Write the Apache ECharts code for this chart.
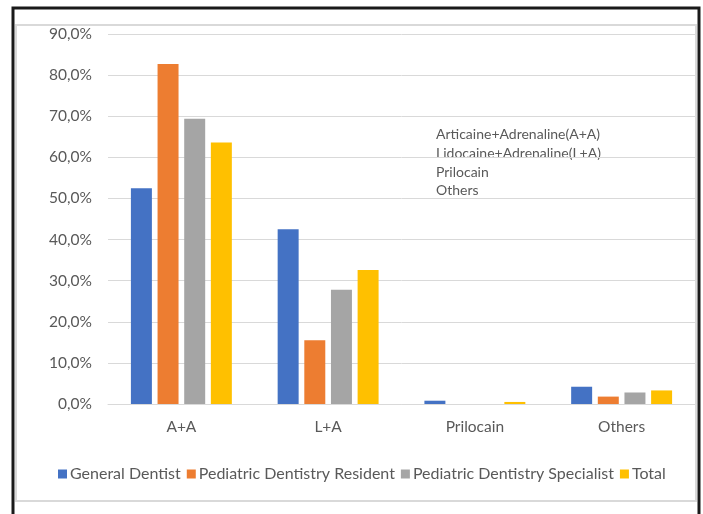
<!DOCTYPE html>
<html>
<head>
<meta charset="utf-8">
<script src="https://cdn.jsdelivr.net/npm/echarts@6/dist/echarts.min.js"></script>
<style>
  html, body { margin: 0; padding: 0; background: #ffffff; }
  #chart { width: 703px; height: 514px; }
</style>
</head>
<body>
<div id="chart"></div>
<script>
// Anaesthetic agent usage by respondent group (% of each group)
const categories = ['A+A', 'L+A', 'Prilocain', 'Others'];
const seriesNames = ['General Dentist', 'Pediatric Dentistry Resident', 'Pediatric Dentistry Specialist', 'Total'];
const generalDentist = [52.5, 42.5, 0.8, 4.2];
const pediatricResident = [82.7, 15.5, 0, 1.8];
const pediatricSpecialist = [69.4, 27.8, 0, 2.8];
const total = [63.6, 32.6, 0.5, 3.3];
const agentNotes = [
  'Articaine+Adrenaline(A+A)',
  'Lidocaine+Adrenaline(L+A)',
  'Prilocain',
  'Others'
];

const colors = ['#4472c4', '#ed7d31', '#a5a5a5', '#ffc000'];
const textColor = '#595959';
const fontFamily = 'Lato, "Open Sans", sans-serif';

const chart = echarts.init(document.getElementById('chart'), null, { renderer: 'canvas' });

const values = [generalDentist, pediatricResident, pediatricSpecialist, total];

chart.setOption({
  animation: false,
  color: colors,
  textStyle: { fontFamily: fontFamily },
  grid: { left: 108, right: 8, top: 34, bottom: 110, containLabel: false },
  xAxis: {
    type: 'category',
    data: categories,
    axisLine: { lineStyle: { color: '#d9d9d9', width: 1 } },
    axisTick: { show: false },
    axisLabel: { color: textColor, fontSize: 15.5, margin: 15, fontFamily: fontFamily }
  },
  yAxis: {
    type: 'value',
    min: 0,
    max: 90,
    interval: 10,
    axisLine: { show: false },
    axisTick: { show: false },
    splitLine: { lineStyle: { color: '#d9d9d9', width: 1 } },
    axisLabel: {
      color: textColor,
      fontSize: 15.5,
      margin: 16,
      fontFamily: fontFamily,
      formatter: v => v.toFixed(1).replace('.', ',') + '%'
    }
  },
  legend: {
    bottom: 27,
    left: 53,
    itemWidth: 9,
    itemHeight: 9,
    itemGap: 6,
    icon: 'rect',
    textStyle: { color: textColor, fontSize: 16, fontFamily: fontFamily, padding: [0, 0, 0, -2] },
    data: seriesNames
  },
  series: seriesNames.map((name, i) => ({
    name: name,
    type: 'bar',
    data: values[i],
    barWidth: '14.3%',
    barGap: '27%',
    itemStyle: { color: colors[i] }
  })),
  graphic: [
    {
      type: 'rect',
      shape: { x: 13, y: 8, width: 686, height: 520 },
      style: { fill: 'none', stroke: '#1a1a1a', lineWidth: 3 },
      silent: true
    },
    {
      type: 'rect',
      shape: { x: 16, y: 25, width: 680, height: 476 },
      style: { fill: 'none', stroke: '#d9d9d9', lineWidth: 2 },
      silent: true
    },
    {
      type: 'text',
      left: 436,
      top: 125,
      style: {
        text: agentNotes.join('\n'),
        fill: textColor,
        fontSize: 14,
        lineHeight: 18.8,
        fontFamily: fontFamily
      },
      silent: true
    }
  ]
});
</script>
</body>
</html>
